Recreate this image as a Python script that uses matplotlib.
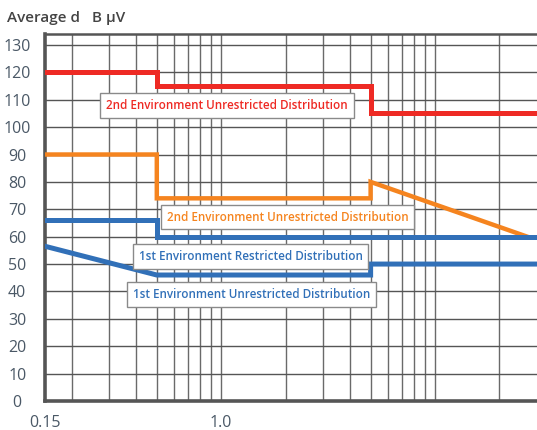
import matplotlib
matplotlib.use("Agg")
import matplotlib.pyplot as plt
from matplotlib.ticker import FixedLocator, NullFormatter

# ---- data (frequency in MHz, level in dBµV) ----
red_freq = [0.15, 0.5, 0.5, 5.0, 5.0, 30.0]
red_level = [120, 120, 115, 115, 105, 105]

orange_freq = [0.15, 0.5, 0.5, 5.0, 5.0, 27.0]
orange_level = [90, 90, 74, 74, 80, 60]

blue_r_freq = [0.15, 0.5, 0.5, 30.0]
blue_r_level = [66, 66, 60, 60]

blue_u_freq = [0.15, 0.5, 5.0, 5.0, 30.0]
blue_u_level = [56.5, 46, 46, 50, 50]

y_ticks = list(range(0, 131, 10))
x_tick_vals = [0.15, 1.0]
x_tick_labels = ["0.15", "1.0"]
x_grid = [0.2, 0.3, 0.4, 0.5, 0.6, 0.7, 0.8, 0.9, 1, 2, 3, 4, 5, 6, 7, 8, 9, 10, 20]

labels = [
    "2nd Environment Unrestricted Distribution",
    "2nd Environment Unrestricted Distribution",
    "1st Environment Restricted Distribution",
    "1st Environment Unrestricted Distribution",
]

title = "Average d   B µV"

RED = "#ee2a24"
ORANGE = "#f5841f"
BLUE = "#3170b8"

plt.rcParams['font.family'] = ['Open Sans', 'DejaVu Sans']

fig = plt.figure(figsize=(5.37, 4.30), dpi=100)
ax = fig.add_axes([45/537, 29/430, 1 - 45/537, (401-34)/430])

ax.set_xscale('log')
ax.set_xlim(0.15, 30)
ax.set_ylim(0, 134)

# grid
for xv in x_grid:
    ax.axvline(xv, color='#6a6a6a', lw=1.0, zorder=1)
for yv in y_ticks[1:]:
    ax.axhline(yv, color='#555555', lw=1.0, zorder=1)

ax.plot(red_freq, red_level, color=RED, lw=3.6, zorder=3, solid_joinstyle='miter')
ax.plot(orange_freq, orange_level, color=ORANGE, lw=3.2, zorder=3, solid_joinstyle='miter')
ax.plot(blue_r_freq, blue_r_level, color=BLUE, lw=3.6, zorder=4, solid_joinstyle='miter')
ax.plot(blue_u_freq, blue_u_level, color=BLUE, lw=3.6, zorder=4, solid_joinstyle='miter')

# spines
for s in ['left', 'bottom']:
    ax.spines[s].set_color('#555555')
    ax.spines[s].set_linewidth(2.6)
ax.spines['top'].set_color('#555555')
ax.spines['top'].set_linewidth(1.8)
ax.spines['right'].set_visible(False)

ax.yaxis.set_major_locator(FixedLocator(y_ticks))
ax.set_yticklabels([str(v) for v in y_ticks])
ax.xaxis.set_major_locator(FixedLocator(x_tick_vals))
ax.xaxis.set_minor_formatter(NullFormatter())
ax.set_xticklabels(x_tick_labels)
ax.tick_params(axis='both', which='both', length=0, labelsize=11.5, labelcolor='#4a5866')
ax.tick_params(axis='y', pad=20)
ax.tick_params(axis='x', pad=10)
for lab in ax.get_yticklabels():
    lab.set_horizontalalignment('center')

# label boxes
label_pos = [(0.370, 0.805), (0.493, 0.501), (0.418, 0.394), (0.419, 0.290)]
label_colors = [RED, ORANGE, BLUE, BLUE]
for txt, (fx, fy), c in zip(labels, label_pos, label_colors):
    ax.text(fx, fy, txt, transform=ax.transAxes, ha='center', va='center',
            fontsize=8.4, fontweight='semibold', color=c, zorder=6,
            bbox=dict(boxstyle='square,pad=0.5', facecolor='white',
                      edgecolor='#8a8a8a', linewidth=1.0))

fig.text(7/537, 1 - 18/430, title, ha='left', va='center', fontsize=11,
         fontweight='semibold', color='#444444')

fig.savefig("out.png", dpi=100)
